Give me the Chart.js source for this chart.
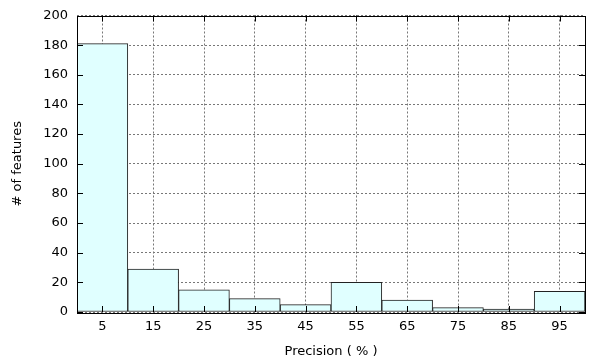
<!DOCTYPE html>
<html>
<head>
<meta charset="utf-8">
<script src="https://cdn.jsdelivr.net/npm/chart.js@4.4.0/dist/chart.umd.min.js"></script>
<style>
  html, body { margin: 0; padding: 0; background: #fff; }
  #wrap { width: 590px; height: 363px; }
</style>
</head>
<body>
<div id="wrap"><canvas id="chart" width="590" height="363"></canvas></div>
<script>
  // histogram data
  const bins = ["5", "15", "25", "35", "45", "55", "65", "75", "85", "95"];
  const counts = [181, 29, 15, 9, 5, 20, 8, 3, 2, 14];
  const yMax = 200;
  const yStep = 20;

  // frame + inward ticks on all four sides (gnuplot style)
  const framePlugin = {
    id: "frame",
    afterDatasetsDraw(chart) {
      const { ctx, chartArea: a, scales } = chart;
      ctx.save();
      ctx.strokeStyle = "#000";
      ctx.lineWidth = 1;
      ctx.beginPath();
      scales.y.ticks.forEach((t) => {
        const py = Math.round(scales.y.getPixelForValue(t.value)) + 0.5;
        ctx.moveTo(a.left, py); ctx.lineTo(a.left + 6, py);
        ctx.moveTo(a.right, py); ctx.lineTo(a.right - 6, py);
      });
      scales.x.ticks.forEach((t, i) => {
        const px = Math.round(scales.x.getPixelForTick(i)) + 0.5;
        ctx.moveTo(px, a.bottom); ctx.lineTo(px, a.bottom - 6);
        ctx.moveTo(px, a.top); ctx.lineTo(px, a.top + 6);
      });
      ctx.stroke();
      ctx.strokeRect(Math.round(a.left) + 0.5, Math.round(a.top) + 0.5,
        Math.round(a.right - a.left), Math.round(a.bottom - a.top));
      ctx.restore();
    },
  };

  const font = { family: "'DejaVu Sans', sans-serif", size: 13 };
  const yFont = { family: "'DejaVu Sans', sans-serif", size: 13, lineHeight: 1 };

  new Chart(document.getElementById("chart").getContext("2d"), {
    type: "bar",
    data: {
      labels: bins,
      datasets: [
        {
          data: counts,
          backgroundColor: "#e0ffff",
          borderColor: "#222",
          borderWidth: 1,
          borderSkipped: false,
          categoryPercentage: 1,
          barPercentage: 1,
        },
      ],
    },
    options: {
      responsive: false,
      animation: false,
      layout: { padding: { top: 14, right: 5, left: 0, bottom: 0 } },
      plugins: { legend: { display: false }, tooltip: { enabled: false } },
      scales: {
        x: {
          offset: true,
          grid: { offset: false, color: "#777", drawTicks: false, lineWidth: 1 },
          border: { display: false, dash: [2, 2] },
          ticks: { color: "#000", font, padding: 7, maxRotation: 0 },
          title: { display: true, text: "Precision ( % )", color: "#000", font, padding: { top: 11 } },
          afterFit(s) { s.height = 51; },
        },
        y: {
          min: 0,
          max: yMax,
          grid: { color: "#777", drawTicks: false, lineWidth: 1 },
          border: { display: false, dash: [2, 2] },
          ticks: { stepSize: yStep, color: "#000", font: yFont, padding: 9 },
          title: { display: true, text: "# of features", color: "#000", font, padding: { top: 10, bottom: 0 } },
          afterFit(s) { s.width = 77; },
        },
      },
    },
    plugins: [framePlugin],
  });
</script>
</body>
</html>
